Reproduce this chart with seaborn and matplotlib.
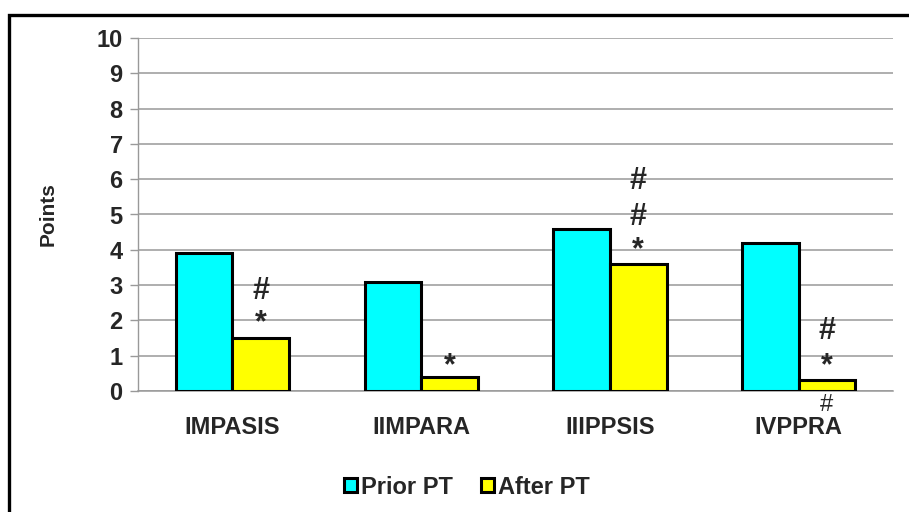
import pandas as pd
import matplotlib
matplotlib.use("Agg")
import matplotlib.pyplot as plt
import seaborn as sns
from matplotlib.patches import Patch, Rectangle

# data
groups = ["IMPASIS", "IIMPARA", "IIIPPSIS", "IVPPRA"]
prior_pt = [3.9, 3.1, 4.6, 4.2]
after_pt = [1.5, 0.4, 3.6, 0.3]
series_names = ["Prior PT", "After PT"]
colors = ["#00FFFF", "#FFFF00"]

# significance marks over the After PT bars: (group index, baseline y, text, bold, size)
marks = [
    (0, 2.60, "#", True, 22), (0, 1.70, "*", True, 22),
    (1, 0.48, "*", True, 22),
    (2, 5.72, "#", True, 22), (2, 4.70, "#", True, 22), (2, 3.77, "*", True, 22),
    (3, 1.47, "#", True, 22), (3, 0.48, "*", True, 22), (3, -0.58, "#", False, 17),
]

df = pd.DataFrame({
    "group": groups * 2,
    "points": prior_pt + after_pt,
    "period": [series_names[0]] * len(groups) + [series_names[1]] * len(groups),
})

sns.set_style("white")
plt.rcParams["font.family"] = ["Liberation Sans", "DejaVu Sans"]
plt.rcParams["font.weight"] = "bold"

fig = plt.figure(figsize=(9.09, 5.12), dpi=100)
ax = fig.add_axes([138 / 909, 1 - 391 / 512, 755 / 909, 353 / 512])

sns.barplot(data=df, x="group", y="points", hue="period", palette=colors,
            saturation=1, width=0.6, edgecolor="black", linewidth=2.2, ax=ax,
            legend=False, zorder=3)

ax.set_ylim(0, 10)
ax.set_xlim(-0.5, len(groups) - 0.5)
ax.set_yticks(range(0, 11))
ax.yaxis.grid(True, color="#999999", linewidth=1.1, zorder=0)
ax.set_axisbelow(True)
for side in ["top", "right"]:
    ax.spines[side].set_visible(False)
ax.spines["left"].set_color("#999999")
ax.spines["bottom"].set_color("#999999")
ax.spines["left"].set_linewidth(1.0)
ax.spines["bottom"].set_linewidth(1.1)
ax.tick_params(axis="y", length=6, width=1.0, color="#999999", pad=5,
               labelsize=17, direction="out", left=True)
ax.tick_params(axis="x", length=0, pad=18, labelsize=17)
for lbl in ax.get_xticklabels() + ax.get_yticklabels():
    lbl.set_fontweight("bold")

ax.set_xlabel("")
ax.set_ylabel("Points", fontsize=15, fontweight="bold")
ax.yaxis.set_label_coords(-0.107, 0.5)

# after-PT bar centres are offset by +0.15 within each group
for gi, yv, txt, bold, size in marks:
    ax.text(gi + 0.15, yv, txt, ha="center", va="baseline", fontsize=size,
            fontweight="bold" if bold else "normal", clip_on=False, zorder=5)

handles = [Patch(facecolor=c, edgecolor="black", linewidth=2.2) for c in colors]
fig.legend(handles, series_names, loc="center", ncol=2,
           bbox_to_anchor=(467 / 909, 1 - 487 / 512), frameon=False,
           prop={"size": 17, "weight": "bold"}, handlelength=0.55,
           handleheight=0.55, handletextpad=0.15, columnspacing=1.2)

# outer frame (only top and left edges fall inside the image)
fig.patches.append(Rectangle((9 / 909, -0.1), 1.2, 1.1 - 14.5 / 512,
                             transform=fig.transFigure, fill=False,
                             edgecolor="black", linewidth=2.4, clip_on=False))

fig.savefig("out.png", dpi=100)
